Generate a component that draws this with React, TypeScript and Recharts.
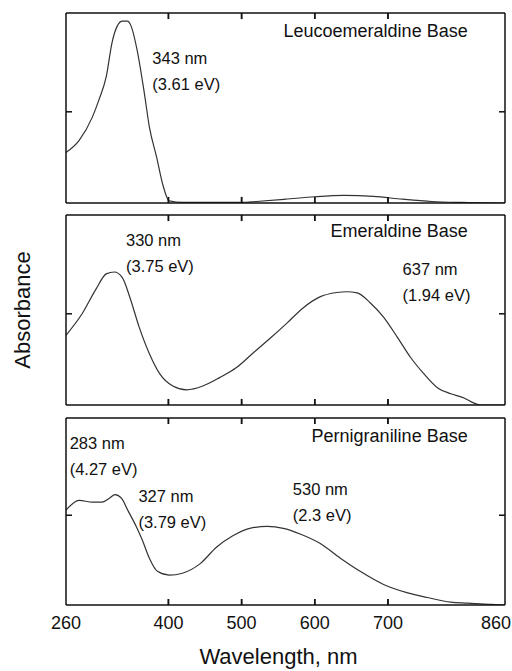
import { LineChart, Line, XAxis, YAxis, ReferenceDot, ReferenceLine, Label } from 'recharts'

// UV-vis spectra of the three polyaniline base forms (arbitrary absorbance units)

const WL_DOMAIN = [260, 860]
const wlTickLabels = [260, 400, 500, 600, 700, 860]
const wlInnerTicks = [400, 500, 600, 700]
const absTicks = [0.48]

// Leucoemeraldine base
const leucoWl = [260, 278, 296, 305, 315, 323, 330, 337, 344, 349, 357, 367, 374, 384, 392, 401, 420, 500, 520, 560, 600, 640, 680, 720, 760, 800, 860]
const leucoAbs = [0.266, 0.33, 0.452, 0.543, 0.665, 0.846, 0.931, 0.957, 0.957, 0.931, 0.809, 0.58, 0.399, 0.239, 0.101, 0.011, 0.003, 0.003, 0.008, 0.02, 0.033, 0.04, 0.035, 0.02, 0.008, 0.003, 0]

// Emeraldine base
const emerWl = [260, 282, 301, 315, 326, 337, 347, 360, 374, 388, 406, 425, 447, 470, 493, 515, 539, 562, 584, 607, 630, 644, 658, 676, 694, 713, 731, 749, 768, 786, 804, 817, 827, 860]
const emerAbs = [0.367, 0.48, 0.61, 0.69, 0.70, 0.67, 0.57, 0.41, 0.27, 0.165, 0.10, 0.08, 0.10, 0.144, 0.197, 0.271, 0.351, 0.431, 0.511, 0.569, 0.592, 0.596, 0.59, 0.537, 0.463, 0.356, 0.25, 0.165, 0.09, 0.059, 0.037, 0.011, 0, 0]

// Pernigraniline base
const pernWl = [260, 278, 296, 309, 319, 327, 336, 344, 356, 364, 374, 385, 401, 419, 443, 466, 488, 511, 535, 557, 580, 607, 635, 662, 694, 727, 754, 786, 809, 841, 860]
const pernAbs = [0.508, 0.56, 0.55, 0.55, 0.57, 0.59, 0.57, 0.51, 0.42, 0.35, 0.25, 0.18, 0.16, 0.17, 0.22, 0.31, 0.37, 0.41, 0.42, 0.41, 0.38, 0.33, 0.25, 0.18, 0.11, 0.065, 0.04, 0.015, 0.01, 0.003, 0]

const panelTitles = ['Leucoemeraldine Base', 'Emeraldine Base', 'Pernigraniline Base']

// peak annotations, placed in data coordinates (wavelength, absorbance)
const leucoNotes = [{ wl: 378, abs: 0.729, lines: ['343 nm', '(3.61 eV)'] }]
const emerNotes = [
  { wl: 342, abs: 0.835, lines: ['330 nm', '(3.75 eV)'] },
  { wl: 720, abs: 0.686, lines: ['637 nm', '(1.94 eV)'] },
]
const pernNotes = [
  { wl: 265, abs: 0.832, lines: ['283 nm', '(4.27 eV)'] },
  { wl: 359, abs: 0.551, lines: ['327 nm', '(3.79 eV)'] },
  { wl: 570, abs: 0.589, lines: ['530 nm', '(2.3 eV)'] },
]
const titleSpot = [
  { wl: 809, abs: 0.872 },
  { wl: 809, abs: 0.883 },
  { wl: 809, abs: 0.87 },
]

const INK = '#111'
const FONT = '"Liberation Sans", Arial, Helvetica, sans-serif'
const TICK_LEN = 0.032 // inward tick length on the wavelength axes, in absorbance units (~6px)

const toRows = (wl: number[], abs: number[]) => wl.map((w, i) => ({ wl: w, abs: abs[i] }))

const noteLabel = (lines: string[], anchor: 'start' | 'end', size: number) => (props: any) => {
  const { x, y } = props.viewBox
  return (
    <text x={x} y={y} textAnchor={anchor} fontSize={size} fill={INK} fontFamily={FONT}>
      {lines.map((t, i) => (
        <tspan key={i} x={x} dy={i === 0 ? 0 : 26}>{t}</tspan>
      ))}
    </text>
  )
}

// bottom tick labels; the last one is pulled in so it stays on the page
const WlTick = ({ x, y, payload }: any) => {
  const last = payload.value === WL_DOMAIN[1]
  return (
    <text x={last ? x + 6 : x} y={y} dy="0.71em" textAnchor={last ? 'end' : 'middle'} fontSize={18} fill={INK} fontFamily={FONT}>
      {payload.value}
    </text>
  )
}

// frame axes: tick marks only, no labels
const NoLabel = () => <g />

const frame = { stroke: INK, strokeWidth: 1.5 }

interface PanelProps {
  data: { wl: number; abs: number }[]
  notes: { wl: number; abs: number; lines: string[] }[]
  title: string
  titleAt: { wl: number; abs: number }
  top: number
  height: number
  margin: { top: number; right: number; bottom: number; left: number }
  last?: boolean
  yTitle?: boolean
}

// mirrored axes draw the frame with inward-pointing ticks
function Panel({ data, notes, title, titleAt, top, height, margin, last, yTitle }: PanelProps) {
  return (
    <div style={{ position: 'absolute', left: 0, top }}>
      <LineChart width={512} height={height} data={data} margin={margin}>
        <XAxis xAxisId="b" dataKey="wl" type="number" domain={WL_DOMAIN}
          ticks={wlInnerTicks} interval={0} height={1} mirror tickSize={6} tick={() => <g />}
          axisLine={frame} tickLine={frame} />
        {last && (
          <XAxis xAxisId="lbl" dataKey="wl" type="number" domain={WL_DOMAIN}
            ticks={wlTickLabels} interval={0} height={66} tickSize={0} tickMargin={11}
            tick={<WlTick />} axisLine={false} tickLine={false}>
            <Label value="Wavelength, nm" position="insideBottom" offset={7} dx={-7}
              style={{ fontSize: 22, fill: INK, fontFamily: FONT }} />
          </XAxis>
        )}
        <XAxis xAxisId="t" orientation="top" dataKey="wl" type="number" domain={WL_DOMAIN}
          ticks={wlInnerTicks} interval={0} height={1} mirror tickSize={6} tick={() => <g />}
          axisLine={frame} tickLine={frame} />
        <YAxis yAxisId="l" type="number" domain={[0, 1]} allowDataOverflow ticks={absTicks} interval={0}
          width={1} mirror tickSize={6} tick={NoLabel} axisLine={frame} tickLine={frame}>
          {yTitle && (
            <Label value="Absorbance" angle={-90} position="left" offset={44}
              style={{ fontSize: 22, fill: INK, fontFamily: FONT, textAnchor: 'middle' }} />
          )}
        </YAxis>
        <YAxis yAxisId="r" orientation="right" type="number" domain={[0, 1]} allowDataOverflow ticks={absTicks} interval={0}
          width={1} mirror tickSize={6} tick={NoLabel} axisLine={frame} tickLine={frame} />

        {/* inward tick marks on the bottom and top edges */}
        {wlInnerTicks.map((w) => (
          <ReferenceLine key={`b${w}`} xAxisId="b" yAxisId="l" segment={[{ x: w, y: 0 }, { x: w, y: TICK_LEN }]}
            stroke={INK} strokeWidth={1.5} ifOverflow="visible" />
        ))}
        {wlInnerTicks.map((w) => (
          <ReferenceLine key={`t${w}`} xAxisId="b" yAxisId="l" segment={[{ x: w, y: 1 }, { x: w, y: 1 - TICK_LEN }]}
            stroke={INK} strokeWidth={1.5} ifOverflow="visible" />
        ))}

        <Line xAxisId="b" yAxisId="l" dataKey="abs" type="monotone" stroke="#333" strokeWidth={1.2}
          dot={false} isAnimationActive={false} />
        <ReferenceDot xAxisId="b" yAxisId="l" x={titleAt.wl} y={titleAt.abs} r={0}
          fill="none" stroke="none" label={noteLabel([title], 'end', 18)} />
        {notes.map((n, i) => (
          <ReferenceDot key={i} xAxisId="b" yAxisId="l" x={n.wl} y={n.abs} r={0}
            fill="none" stroke="none" label={noteLabel(n.lines, 'start', 16.5)} />
        ))}
      </LineChart>
    </div>
  )
}

export default function App() {
  return (
    <div style={{ position: 'absolute', left: 0, top: 0, width: 512, height: 671, background: '#fff' }}>
      <Panel data={toRows(leucoWl, leucoAbs)} notes={leucoNotes} title={panelTitles[0]} titleAt={titleSpot[0]}
        top={0} height={210} margin={{ top: 13, right: 7, bottom: 7, left: 66 }} />
      <Panel data={toRows(emerWl, emerAbs)} notes={emerNotes} title={panelTitles[1]} titleAt={titleSpot[1]}
        top={210} height={200} margin={{ top: 5, right: 7, bottom: 5, left: 66 }} yTitle />
      <Panel data={toRows(pernWl, pernAbs)} notes={pernNotes} title={panelTitles[2]} titleAt={titleSpot[2]}
        top={410} height={261} margin={{ top: 8, right: 7, bottom: 0, left: 66 }} last />
    </div>
  )
}
